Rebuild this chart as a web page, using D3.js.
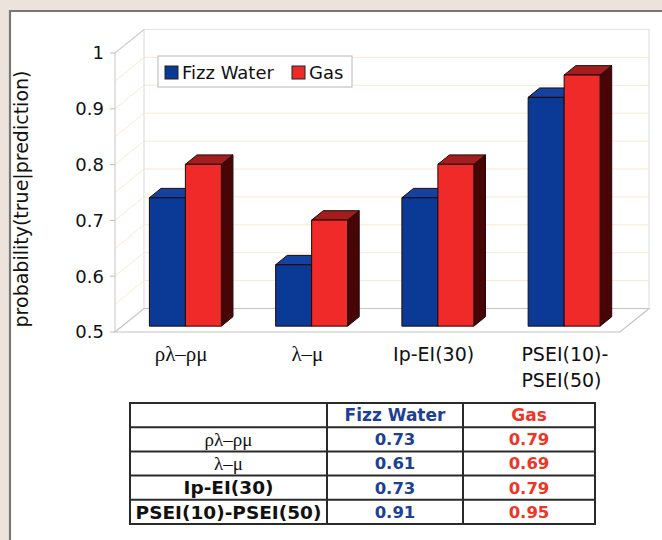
<!DOCTYPE html>
<html>
<head>
<meta charset="utf-8">
<script src="https://cdn.jsdelivr.net/npm/d3@7"></script>
<style>
  html, body { margin: 0; padding: 0; background: #ece3dd; }
  svg { display: block; }
</style>
</head>
<body>
<svg id="chart" width="662" height="540"></svg>
<script>
// ---- data ----
const categories = ["ρλ–ρμ", "λ–μ", "Ip-EI(30)", "PSEI(10)-PSEI(50)"];
const categoryLines = [["ρλ–ρμ"], ["λ–μ"], ["Ip-EI(30)"], ["PSEI(10)-", "PSEI(50)"]];
const seriesNames = ["Fizz Water", "Gas"];
const fizzWater = [0.73, 0.61, 0.73, 0.91];
const gas = [0.79, 0.69, 0.79, 0.95];
const yTicks = [0.5, 0.6, 0.7, 0.8, 0.9, 1];
const yLabel = "probability(true|prediction)";

const seriesValues = [fizzWater, gas];
const palette = {
  "Fizz Water": { front: "#0b3996", top: "#1442a3", side: "#061f5c", text: "#1d3f95" },
  "Gas":        { front: "#f02a28", top: "#a41e1e", side: "#470505", text: "#ee3526" }
};
const greekFont = "'Liberation Serif', 'DejaVu Serif', serif";
const sansFont = "'DejaVu Sans', Verdana, sans-serif";
const isGreek = s => /^[\u0370-\u03ff\u2013\-]+$/.test(s);

const svg = d3.select("#chart");

// ---- panel ----
svg.append("rect").attr("x", 10).attr("y", 11).attr("width", 660).attr("height", 540).attr("fill", "#fff");
svg.append("path").attr("d", "M10,540V11H662").attr("fill", "none")
  .attr("stroke", "#777").attr("stroke-width", 2.2);

// ---- 3D geometry ----
const DX = 29, DY = -23.5;           // full depth of the plot box
const F0 = 0.25, F1 = 0.65;          // depth range occupied by the bars
const y = d3.scaleLinear().domain([0.5, 1]).range([332, 53]);
const x0 = d3.scaleBand().domain(categories).range([115, 620]).paddingInner(0.43).paddingOuter(0.215);
const x1 = d3.scaleBand().domain(seriesNames).range([0, x0.bandwidth()]);
const P = (x, yy, f) => [x + DX * f, yy + DY * f];
const poly = pts => "M" + pts.map(p => p.join(",")).join("L") + "Z";

const xL = 115, xR = 620, yB = y(0.5), yT = y(1);

// gridlines on the back and side walls
const grid = svg.append("g");
y.ticks(10).filter(v => v > 0.5 && v < 1).forEach(v => {
  const a = P(xL, y(v), 0), b = P(xL, y(v), 1), c = P(xR, y(v), 1);
  grid.append("path").attr("d", `M${a}L${b}L${c}`).attr("fill", "none")
    .attr("stroke", "#fbe9cf").attr("stroke-width", 1);
});

// walls and floor edges
const walls = svg.append("g").attr("fill", "none").attr("stroke", "#d9d9d9").attr("stroke-width", 1.2);
walls.append("path").attr("d", poly([P(xL, yB, 0), P(xR, yB, 0), P(xR, yB, 1), P(xL, yB, 1)]))
  .attr("stroke", "#c4c4c4");
walls.append("path").attr("d", `M${P(xL, yB, 1)}L${P(xL, yT, 1)}L${P(xR, yT, 1)}L${P(xR, yB, 1)}`)
  .attr("stroke", "#e2e2e2");
walls.append("path").attr("d", `M${P(xL, yT, 1)}L${P(xL, yT, 0)}L${P(xL, yB, 0)}`)
  .attr("stroke", "#cfcfcf");

// y axis ticks and labels
const yAxis = svg.append("g");
yTicks.forEach(t => {
  yAxis.append("line").attr("x1", xL - 5).attr("x2", xL).attr("y1", y(t)).attr("y2", y(t))
    .attr("stroke", "#bdbdbd");
  yAxis.append("text").attr("x", 104).attr("y", y(t)).attr("dy", "0.36em")
    .attr("text-anchor", "end").attr("font-family", sansFont).attr("font-size", 18)
    .attr("fill", "#111").text(d3.format("")(t));
});

svg.append("text").attr("transform", "translate(28,199) rotate(-90)")
  .attr("text-anchor", "middle").attr("font-family", sansFont).attr("font-size", 19)
  .attr("fill", "#111").text(yLabel);

// ---- bars ----
const bars = svg.append("g").attr("stroke", "#200808").attr("stroke-width", 1).attr("stroke-linejoin", "round");
categories.forEach((cat, i) => {
  seriesNames.forEach((name, s) => {
    const v = seriesValues[s][i];
    const c = palette[name];
    const l = x0(cat) + x1(name), r = l + x1.bandwidth();
    const t = y(v), b = y(0.5);
    bars.append("path").attr("fill", c.side)
      .attr("d", poly([P(r, t, F0), P(r, t, F1), P(r, b, F1), P(r, b, F0)]));
    bars.append("path").attr("fill", c.top)
      .attr("d", poly([P(l, t, F0), P(r, t, F0), P(r, t, F1), P(l, t, F1)]));
    bars.append("path").attr("fill", c.front)
      .attr("d", poly([P(l, t, F0), P(r, t, F0), P(r, b, F0), P(l, b, F0)]));
  });
});

// category labels (wrapped labels are set as a left-justified block centred under the group)
categories.forEach((cat, i) => {
  const lines = categoryLines[i];
  const cx = x0(cat) + x0.bandwidth() / 2 + 3;
  const g = svg.append("g");
  const texts = lines.map((ln, k) => g.append("text").attr("y", 361 + k * 26)
    .attr("font-family", isGreek(ln) ? greekFont : sansFont)
    .attr("font-size", isGreek(ln) ? 21 : 19).attr("fill", "#111").text(ln));
  if (lines.length === 1) {
    texts[0].attr("x", cx).attr("text-anchor", "middle");
  } else {
    const w = d3.max(texts, t => t.node().getComputedTextLength());
    texts.forEach(t => t.attr("x", cx - w / 2 + 5));
  }
});

// ---- legend ----
const legend = svg.append("g");
legend.append("rect").attr("x", 158).attr("y", 56).attr("width", 194).attr("height", 31)
  .attr("fill", "#fff").attr("stroke", "#b8b8b8");
const legendX = [165, 292];
seriesNames.forEach((name, s) => {
  legend.append("rect").attr("x", legendX[s]).attr("y", 66).attr("width", 13).attr("height", 13)
    .attr("fill", palette[name].front).attr("stroke", "#222");
  legend.append("text").attr("x", legendX[s] + 17).attr("y", 79)
    .attr("font-family", sansFont).attr("font-size", 18).attr("fill", "#111").text(name);
});

// ---- data table ----
const colEdges = [130, 327, 463, 595];
const rowScale = d3.scaleBand().domain(d3.range(categories.length + 1)).range([403, 524]);
const table = svg.append("g");
table.append("rect").attr("x", colEdges[0]).attr("y", 403).attr("width", colEdges[3] - colEdges[0])
  .attr("height", 121).attr("fill", "#fff");
const colMid = k => (colEdges[k] + colEdges[k + 1]) / 2;
const rowMid = r => rowScale(r) + rowScale.bandwidth() / 2;

seriesNames.forEach((name, s) => {
  table.append("text").attr("x", colMid(s + 1)).attr("y", rowMid(0)).attr("dy", "0.36em")
    .attr("text-anchor", "middle").attr("font-family", sansFont).attr("font-weight", "bold")
    .attr("font-size", 17).attr("fill", palette[name].text).text(name);
});
categories.forEach((cat, i) => {
  const r = i + 1;
  const greek = isGreek(cat);
  table.append("text").attr("x", colMid(0)).attr("y", rowMid(r)).attr("dy", "0.36em")
    .attr("text-anchor", "middle").attr("font-family", greek ? greekFont : sansFont)
    .attr("font-weight", greek ? "normal" : "bold").attr("font-size", greek ? 19 : 18.5)
    .attr("fill", "#111").text(cat);
  seriesNames.forEach((name, s) => {
    table.append("text").attr("x", colMid(s + 1)).attr("y", rowMid(r)).attr("dy", "0.36em")
      .attr("text-anchor", "middle").attr("font-family", sansFont).attr("font-weight", "bold")
      .attr("font-size", 16.5).attr("fill", palette[name].text)
      .text(d3.format(".2f")(seriesValues[s][i]));
  });
});
const grd = table.append("g").attr("stroke", "#2a2a2a").attr("stroke-width", 2).attr("fill", "none");
d3.range(1, categories.length + 1).forEach(r => {
  grd.append("line").attr("x1", colEdges[0]).attr("x2", colEdges[3])
    .attr("y1", rowScale(r)).attr("y2", rowScale(r));
});
[1, 2].forEach(k => {
  grd.append("line").attr("x1", colEdges[k]).attr("x2", colEdges[k]).attr("y1", 403).attr("y2", 524);
});
grd.append("rect").attr("x", colEdges[0]).attr("y", 403).attr("width", colEdges[3] - colEdges[0]).attr("height", 121);
</script>
</body>
</html>
